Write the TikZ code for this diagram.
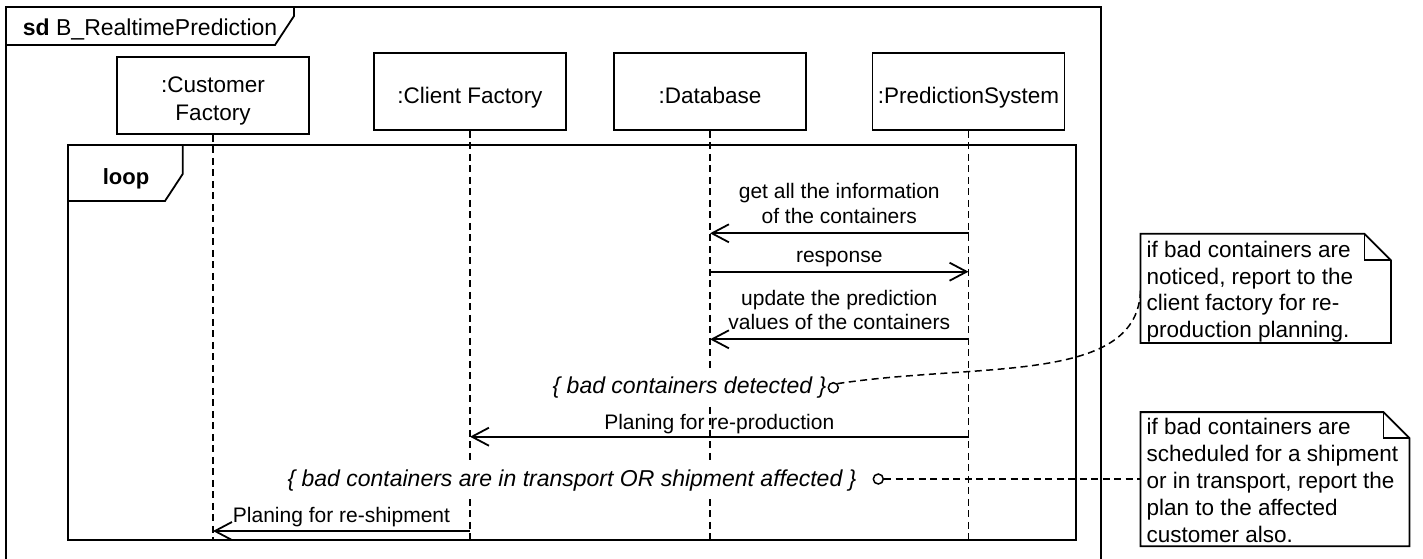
\documentclass[tikz,border=0pt]{standalone}
\usepackage{fontspec}
\setmainfont{Liberation Sans}
\usetikzlibrary{arrows.meta,calc}

\tikzset{
  ln/.style={line width=1.8pt},
  objbox/.style={draw, line width=1.8pt, minimum width=192pt, minimum height=77pt,
    inner sep=0pt, align=center, font=\fontsize{22.5}{27.4}\selectfont},
  oneline/.style={text height=26pt, text depth=2pt},
  lifeline/.style={line width=1.6pt, dash pattern=on 7pt off 4.5pt},
  msg/.style={line width=1.8pt, -{Straight Barb[length=17pt,width=18pt]}},
  msglabel/.style={inner sep=0pt, font=\fontsize{21}{24.5}\selectfont},
  guard/.style={fill=white, inner xsep=2pt, inner ysep=8pt, text height=17pt,
    text depth=5pt, font=\fontsize{23}{27}\selectfont\itshape},
  pin/.style={circle, draw, line width=1.5pt, minimum size=10pt, inner sep=0pt, fill=white},
  notelink/.style={line width=1.5pt, dash pattern=on 7pt off 4.5pt},
  notebox/.style={inner sep=0pt},
  notetext/.style={inner sep=0pt, align=left, anchor=north west,
    font=\fontsize{22.5}{26.8}\selectfont},
}

\begin{document}
\begin{tikzpicture}[x=1pt,y=-1pt]
\useasboundingbox (0,0) rectangle (1423,558);
\fill[white] (0,0) rectangle (1423,558);

% sequence diagram frame
\draw[ln] (6,7) rectangle (1101,562);
\draw[ln] (6,45) -- (275,45) -- (294,16) -- (294,7);
\node[anchor=base west, inner sep=0pt, font=\fontsize{23}{27}\selectfont] (title)
  at (22.7,35.7) {\textbf{sd} B\_RealtimePrediction};

% loop fragment
\draw[ln] (67.7,145.3) rectangle (1076,540);
\draw[ln] (67.7,201) -- (165,201) -- (182.7,174) -- (182.7,145.3);
\node[anchor=base, inner sep=0pt, font=\bfseries\fontsize{22}{26}\selectfont] (looplbl)
  at (126,184.3) {loop};

% participants
\node[objbox] (cust) at (213,95.5) {\rule{0pt}{27pt}:Customer\\Factory};
\node[objbox, oneline] (cli)  at (470,91.5) {:Client Factory};
\node[objbox, oneline] (db)   at (710,91.5) {:Database};
\node[objbox, oneline] (pred) at (968.5,91.5) {:PredictionSystem};

% lifelines
\coordinate (lifeEnd) at (0,541);
\draw[lifeline] (cust.south) -- (cust.south |- lifeEnd);
\draw[lifeline] (cli.south)  -- (cli.south |- lifeEnd);
\draw[lifeline] (db.south)   -- (db.south |- lifeEnd);
\draw[lifeline] (pred.south) -- (pred.south |- lifeEnd);

% message levels
\coordinate (m1) at (0,233.3);
\coordinate (m2) at (0,271.7);
\coordinate (m3) at (0,339.3);
\coordinate (m4) at (0,436.7);
\coordinate (m5) at (0,531);

% messages
\draw[msg] (pred |- m1) -- (db |- m1)
  node[midway, anchor=south, yshift=9pt, msglabel, align=center] (l1)
  {get all the information\\of the containers};
\draw[msg] (db |- m2) -- (pred |- m2)
  node[midway, anchor=base, yshift=9pt, msglabel] (l2) {response};
\draw[msg] (pred |- m3) -- (db |- m3)
  node[midway, anchor=south, yshift=8.6pt, msglabel, align=center] (l3)
  {update the prediction\\values of the containers};
\draw[msg] (pred |- m4) -- (cli |- m4)
  node[midway, anchor=base, yshift=7.6pt, msglabel] (l4) {Planing for re-production};
\draw[msg] (cli |- m5) -- (cust |- m5)
  node[midway, anchor=base, yshift=8.3pt, msglabel] (l5) {Planing for re-shipment};

% guard conditions with their anchors
\node[guard, anchor=base] (g1) at (689.5,393.3) {\{ bad containers detected \}};
\node[pin] (c1) at (833.3,387.7) {};
\node[guard, anchor=base] (g2) at (572,486)
  {\{ bad containers are in transport OR shipment affected \}};
\node[pin] (c2) at (878.3,479) {};

% comment notes
\node[notebox, minimum width=250pt, minimum height=108.7pt] (n1) at (1265.7,288.35) {};
\node[notebox, minimum width=268.6pt, minimum height=133.7pt] (n2) at (1275,479.15) {};

% links from guards to notes
\draw[notelink] (c1.north east) .. controls (980,362) and (1140,385) .. (n1.west);
\draw[notelink] (c2.east) -- (c2.east -| n2.west);

% note outlines with folded corner
\foreach \n/\f in {n1/26.4, n2/26} {
  \draw[ln, fill=white] (\n.north west) -- ($(\n.north east)+(-\f,0)$)
    -- ($(\n.north east)+(0,\f)$) -- (\n.south east) -- (\n.south west) -- cycle;
  \draw[ln] ($(\n.north east)+(-\f,0)$) -- ($(\n.north east)+(-\f,\f)$)
    -- ($(\n.north east)+(0,\f)$);
}
\node[notetext] (t1) at ($(n1.north west)+(6,6.9)$)
  {if bad containers are\\noticed, report to the\\client factory for re-\\production planning.};
\node[notetext] (t2) at ($(n2.north west)+(6,6.3)$)
  {if bad containers are\\scheduled for a shipment\\or in transport, report the\\plan to the affected\\customer also.};
\end{tikzpicture}
\end{document}
